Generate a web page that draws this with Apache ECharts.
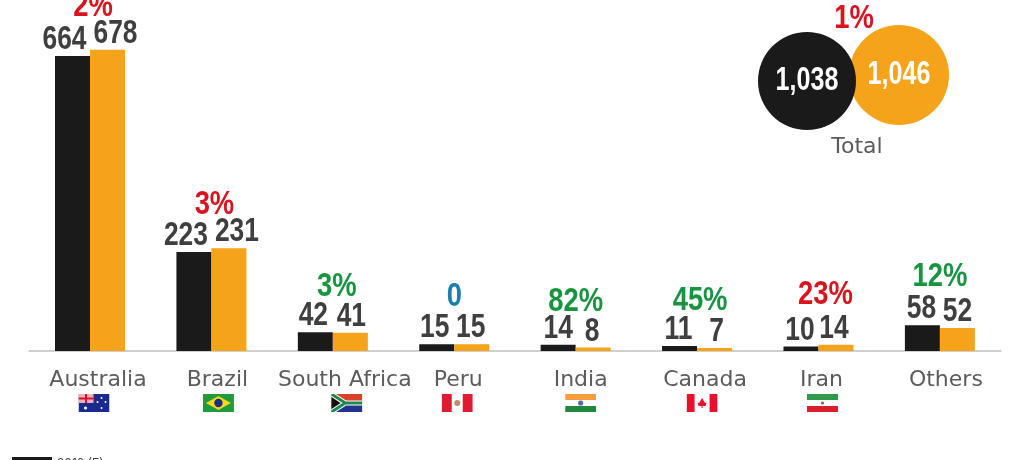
<!DOCTYPE html>
<html>
<head>
    <meta charset='utf-8'>
    <script src="https://cdn.jsdelivr.net/npm/echarts@6/dist/echarts.min.js"></script>
</head>
<body>
<style>
    html, body, #main {
        width: 100%;
        height: 100%;
        margin: 0;
        padding: 0;
        background: #fff;
    }
</style>
<div id="main"></div>
<script>
    var categories = ['Australia', 'Brazil', 'South Africa', 'Peru', 'India', 'Canada', 'Iran', 'Others'];
    var values2018 = [664, 223, 42, 15, 14, 11, 10, 58];
    var values2019 = [678, 231, 41, 15, 8, 7, 14, 52];
    var changes = ['2%', '3%', '3%', '0', '82%', '45%', '23%', '12%'];
    var changeKinds = ['up', 'up', 'down', 'flat', 'down', 'down', 'up', 'down'];
    var totals = [1038, 1046];
    var totalChange = '1%';

    // hand placement, the labels in the picture do not sit on the bar centres
    var shift2018 = [-8, -8, -2, -2, 0, -1, -1, -1];
    var shift2019 = [8, 8, 1, -1, -1, 2, -2, 0];
    var changeShift = [3, 3, 4, 0, 0, 3, 7, 0];
    var changeLift = [43, 43, 45, 47, 43, 45, 50, 48];
    var nameShift = [8, 6, 12, 4, 5, 8, 3, 6];
    var flagShift = [4, 7, 14, 3, 5, 5, 4];

    var BLACK = '#1a1a1a', ORANGE = '#f5a31a';
    var kindColor = {up: '#d9141e', down: '#17943f', flat: '#1a7fb0'};
    var HEAVY = 'bold 33px "Liberation Sans", sans-serif';
    var BAR_HALF = 17.5;

    function svg(w, h, body) {
        return 'data:image/svg+xml;charset=utf-8,' + encodeURIComponent(
            '<svg xmlns="http://www.w3.org/2000/svg" width="' + w * 2 + '" height="' + h * 2
            + '" viewBox="0 0 ' + w + ' ' + h + '">' + body + '</svg>');
    }
    var flags = [
        svg(31, 18, '<rect width="31" height="18" fill="#1a2a8f"/><rect width="15" height="9" fill="#e8b4bc"/>'
            + '<path d="M0 4.5H15M7.5 0V9" stroke="#d8102c" stroke-width="2"/>'
            + '<circle cx="7" cy="14" r="1.6" fill="#fff"/><circle cx="23" cy="4" r="1" fill="#fff"/>'
            + '<circle cx="27" cy="8" r="1" fill="#fff"/><circle cx="23" cy="14" r="1" fill="#fff"/><circle cx="19" cy="8" r="1" fill="#fff"/>'),
        svg(31, 18, '<rect width="31" height="18" fill="#1f9a3c"/><path d="M15.5 2L28 9L15.5 16L3 9Z" fill="#f7d81c"/>'
            + '<circle cx="15.5" cy="9" r="4.2" fill="#1c2f7c"/>'),
        svg(31, 18, '<rect width="31" height="9" fill="#d8402c"/><rect y="9" width="31" height="9" fill="#23348c"/>'
            + '<path d="M0 0L14 9L0 18M14 9H31" fill="none" stroke="#fff" stroke-width="5"/>'
            + '<path d="M0 0L14 9L0 18M14 9H31" fill="none" stroke="#1c8a4a" stroke-width="3"/>'
            + '<path d="M0 3L8.5 9L0 15Z" fill="#111"/>'),
        svg(31, 18, '<rect width="31" height="18" fill="#fff"/><rect width="10" height="18" fill="#e01b2f"/>'
            + '<rect x="21" width="10" height="18" fill="#e01b2f"/><circle cx="15.5" cy="9" r="3" fill="#c08a70"/>'),
        svg(31, 18, '<rect width="31" height="18" fill="#fff"/><rect width="31" height="6" fill="#f59c3c"/>'
            + '<rect y="12" width="31" height="6" fill="#1f8a3c"/><circle cx="15.5" cy="9" r="2.6" fill="#5a6a9c"/>'),
        svg(31, 18, '<rect width="31" height="18" fill="#fff"/><rect width="8" height="18" fill="#e8102c"/>'
            + '<rect x="23" width="8" height="18" fill="#e8102c"/><path d="M15.5 4L18.5 9L20 8.5L19 12H16V14H15V12H12L11 8.5L12.5 9Z" fill="#e8102c"/>'),
        svg(31, 18, '<rect width="31" height="18" fill="#fff"/><rect width="31" height="6" fill="#2f9a4c"/>'
            + '<rect y="12" width="31" height="6" fill="#d8202c"/><circle cx="15.5" cy="9" r="1.6" fill="#c84848"/>')
    ];

    var rich = {};
    categories.forEach(function (name, i) {
        rich['n' + i] = {
            fontFamily: '"DejaVu Sans", sans-serif',
            fontSize: 22,
            color: '#5c5c5c',
            lineHeight: 27,
            padding: [0, 0, 0, nameShift[i] * 2]
        };
        if (flags[i]) {
            rich['s' + i] = {width: flagShift[i] * 2, height: 18};
            rich['f' + i] = {width: 31, height: 18, backgroundColor: {image: flags[i]}};
        }
    });

    // no condensed font is installed, so the heavy numbers are squeezed real text
    function squeezed(text, x, y, color, squeeze) {
        return {
            type: 'text',
            x: x,
            y: y,
            scaleX: squeeze,
            silent: true,
            style: {text: text, font: HEAVY, fill: color, align: 'center', verticalAlign: 'middle'}
        };
    }

    function valueLabels(name, values, shifts, barOffset) {
        return {
            name: name,
            type: 'custom',
            z: 5,
            data: values.map(function (v, i) { return [i, v]; }),
            renderItem: function (params, api) {
                var p = api.coord([api.value(0), api.value(1)]);
                var i = params.dataIndex;
                return squeezed(String(values[i]), p[0] + barOffset + shifts[i], p[1] - 16, '#3f3f3f', 0.8);
            }
        };
    }

    var chart = echarts.init(document.getElementById('main'), null, {renderer: 'canvas'});

    chart.setOption({
        animation: false,
        backgroundColor: '#fff',
        title: {
            text: 'Total',
            left: 852,
            top: 131,
            textAlign: 'center',
            textStyle: {fontFamily: '"DejaVu Sans", sans-serif', fontSize: 22, fontWeight: 'normal', color: '#5c5c5c'}
        },
        graphic: [squeezed(totalChange, 854, 19, kindColor.up, 0.83)],
        legend: {
            left: 12,
            top: 457,
            padding: 0,
            icon: 'rect',
            itemWidth: 40,
            itemHeight: 12,
            data: ['2018 (E)'],
            textStyle: {fontFamily: 'Inter, sans-serif', fontSize: 12, color: '#444'}
        },
        grid: [
            {left: 29.3, right: 23.4, top: 0, height: 351},
            {left: 761, width: 184, top: 72, height: 15}
        ],
        xAxis: [{
            type: 'category',
            data: categories,
            axisTick: {show: false},
            axisLine: {lineStyle: {color: '#cfcfcf', width: 2}},
            axisLabel: {
                interval: 0,
                margin: 16,
                rich: rich,
                formatter: function (name, i) {
                    var text = '{n' + i + '|' + name + '}';
                    return flags[i] ? text + '\n{s' + i + '|}{f' + i + '|}' : text;
                }
            }
        }, {
            type: 'category',
            gridIndex: 1,
            data: ['2018', '2019'],
            show: false
        }],
        yAxis: [{
            type: 'value',
            min: 0,
            max: 790,
            show: false
        }, {
            type: 'value',
            gridIndex: 1,
            min: 1030,
            max: 1050,
            show: false
        }],
        series: [{
            name: '2018 (E)',
            type: 'bar',
            barWidth: 35,
            barGap: 0,
            itemStyle: {color: BLACK},
            data: values2018
        }, {
            name: '2019 (F)',
            type: 'bar',
            barWidth: 35,
            itemStyle: {color: ORANGE},
            data: values2019
        },
        valueLabels('labels 2018', values2018, shift2018, -BAR_HALF),
        valueLabels('labels 2019', values2019, shift2019, BAR_HALF),
        {
            name: 'change',
            type: 'custom',
            z: 5,
            data: values2018.map(function (v, i) { return [i, Math.max(v, values2019[i])]; }),
            renderItem: function (params, api) {
                var p = api.coord([api.value(0), api.value(1)]);
                var i = params.dataIndex;
                return squeezed(changes[i], p[0] + changeShift[i], p[1] - changeLift[i], kindColor[changeKinds[i]], 0.83);
            }
        }, {
            name: 'total 2019',
            type: 'scatter',
            xAxisIndex: 1,
            yAxisIndex: 1,
            symbolSize: 100,
            z: 3,
            itemStyle: {color: ORANGE, opacity: 1},
            data: [['2019', totals[1]]]
        }, {
            name: 'total 2018',
            type: 'scatter',
            xAxisIndex: 1,
            yAxisIndex: 1,
            symbolSize: 98,
            z: 4,
            itemStyle: {color: BLACK, opacity: 1},
            data: [['2018', totals[0]]]
        }, {
            name: 'total labels',
            type: 'custom',
            xAxisIndex: 1,
            yAxisIndex: 1,
            z: 5,
            data: totals.map(function (v, i) { return [i, v]; }),
            renderItem: function (params, api) {
                var p = api.coord([api.value(0), api.value(1)]);
                return squeezed(totals[params.dataIndex].toLocaleString('en-US'), p[0], p[1], '#fff', 0.76);
            }
        }]
    });
</script>
</body>
</html>
